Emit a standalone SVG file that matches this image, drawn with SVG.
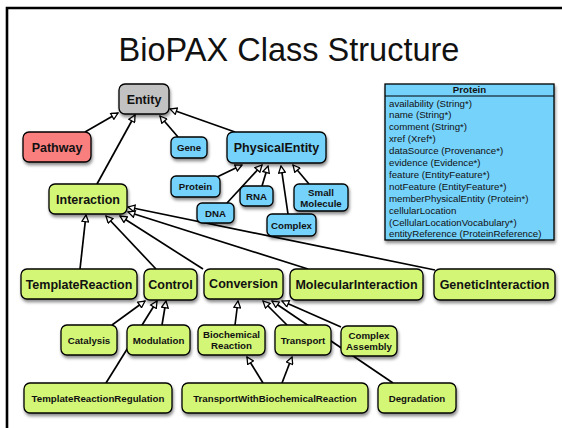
<svg xmlns="http://www.w3.org/2000/svg" width="562" height="428" viewBox="0 0 562 428">
  <defs>
    <filter id="shadow" x="-20%" y="-20%" width="150%" height="160%">
      <feDropShadow dx="1" dy="2.5" stdDeviation="1.4" flood-color="#000" flood-opacity="0.45"/>
    </filter>
    <marker id="tri" viewBox="0 0 10 10" refX="9.2" refY="5" markerWidth="9" markerHeight="8" markerUnits="userSpaceOnUse" orient="auto">
      <path d="M0.8,0.8 L9.2,5 L0.8,9.2 z" fill="#fff" stroke="#000" stroke-width="1.6" stroke-linejoin="miter"/>
    </marker>
    <style>
      .node rect { stroke: #000; stroke-width: 1.3; filter: url(#shadow); }
      .gray rect { fill: #c2c2c2; }
      .red rect { fill: #f97f7f; }
      .green rect { fill: #d3f677; }
      .blue rect { fill: #74d2fb; }
      .node text { font-family: "Liberation Sans", Arial, sans-serif; font-weight: bold; text-anchor: middle; fill: #111; }
      .big text { font-size: 12.5px; }
      .small text { font-size: 9.7px; }
      #connectors line { stroke: #000; stroke-width: 1.7; marker-end: url(#tri); }
      .title { font-family: "Liberation Sans", Arial, sans-serif; font-size: 32.5px; text-anchor: middle; fill: #111; }
      .attr { font-family: "Liberation Sans", Arial, sans-serif; font-size: 9.7px; fill: #111; }
      .attr-head { font-family: "Liberation Sans", Arial, sans-serif; font-size: 9.7px; font-weight: bold; text-anchor: middle; fill: #111; }
    </style>
  </defs>

  <rect width="562" height="428" fill="#fff"/>
  <!-- slide frame -->
  <path d="M7,428 V8 H562" fill="none" stroke="#000" stroke-width="2.6"/>

  <text class="title" x="289" y="61">BioPAX Class Structure</text>

  <!-- inheritance connectors (child to parent) -->
  <g id="connectors">
    <line x1="85" y1="132" x2="118" y2="113"/>
    <line x1="97" y1="184" x2="135" y2="115"/>
    <line x1="178" y1="137" x2="160" y2="116"/>
    <line x1="235" y1="132" x2="170" y2="109"/>
    <line x1="217" y1="177" x2="242" y2="165"/>
    <line x1="227" y1="203" x2="262" y2="165"/>
    <line x1="262" y1="186" x2="268" y2="166"/>
    <line x1="288" y1="214" x2="281" y2="166"/>
    <line x1="309" y1="184" x2="293" y2="165"/>
    <line x1="80" y1="269" x2="86" y2="215"/>
    <line x1="156" y1="269" x2="106" y2="216"/>
    <line x1="203" y1="269" x2="120" y2="216"/>
    <line x1="308" y1="269" x2="128" y2="212"/>
    <line x1="435" y1="270" x2="128" y2="207"/>
    <line x1="112" y1="325" x2="145" y2="301"/>
    <line x1="106" y1="383" x2="157" y2="301"/>
    <line x1="162" y1="325" x2="166" y2="301"/>
    <line x1="235" y1="325" x2="238" y2="301"/>
    <line x1="287" y1="325" x2="263" y2="301"/>
    <line x1="393" y1="383" x2="272" y2="301"/>
    <line x1="341" y1="327" x2="282" y2="301"/>
    <line x1="263" y1="383" x2="247" y2="357"/>
    <line x1="282" y1="383" x2="292" y2="357"/>
  </g>

  <g id="entity" class="node gray big"><rect x="119" y="84" width="50" height="30" rx="6"/><text x="144" y="103.5">Entity</text></g>
  <g id="pathway" class="node red big"><rect x="23" y="132" width="68" height="30" rx="6"/><text x="57" y="151.5">Pathway</text></g>
  <g id="interaction" class="node green big"><rect x="49" y="184" width="78" height="30" rx="6"/><text x="88" y="203.5">Interaction</text></g>
  <g id="gene" class="node blue small"><rect x="171" y="137" width="36" height="21" rx="5"/><text x="189" y="151">Gene</text></g>
  <g id="physical-entity" class="node blue big"><rect x="227" y="132" width="99" height="31" rx="6"/><text x="276.5" y="152">PhysicalEntity</text></g>
  <g id="protein" class="node blue small"><rect x="171" y="176" width="49" height="21" rx="5"/><text x="195.5" y="190">Protein</text></g>
  <g id="rna" class="node blue small"><rect x="240" y="186" width="33" height="20" rx="5"/><text x="256.5" y="199.5">RNA</text></g>
  <g id="dna" class="node blue small"><rect x="197" y="203" width="37" height="20" rx="5"/><text x="215.5" y="216.5">DNA</text></g>
  <g id="small-molecule" class="node blue small"><rect x="294" y="184" width="54" height="27" rx="5"/><text x="321" y="195.5">Small</text><text x="321" y="206.5">Molecule</text></g>
  <g id="complex" class="node blue small"><rect x="267" y="214" width="49" height="22" rx="5"/><text x="291.5" y="228.5">Complex</text></g>

  <g id="template-reaction" class="node green big"><rect x="21" y="269" width="116" height="30" rx="6"/><text x="79" y="288.5">TemplateReaction</text></g>
  <g id="control" class="node green big"><rect x="144" y="269" width="53" height="31" rx="6"/><text x="170.5" y="289">Control</text></g>
  <g id="conversion" class="node green big"><rect x="204" y="269" width="79" height="30" rx="6"/><text x="243.5" y="288">Conversion</text></g>
  <g id="molecular-interaction" class="node green big"><rect x="290" y="269" width="133" height="31" rx="6"/><text x="356.5" y="289">MolecularInteraction</text></g>
  <g id="genetic-interaction" class="node green big"><rect x="434" y="269" width="121" height="31" rx="6"/><text x="494.5" y="289">GeneticInteraction</text></g>

  <g id="catalysis" class="node green small"><rect x="61" y="325" width="56" height="30" rx="6"/><text x="89" y="343.5">Catalysis</text></g>
  <g id="modulation" class="node green small"><rect x="127" y="325" width="63" height="30" rx="6"/><text x="158.5" y="343.5">Modulation</text></g>
  <g id="biochemical-reaction" class="node green small"><rect x="198" y="325" width="67" height="30" rx="6"/><text x="231.5" y="337.5">Biochemical</text><text x="231.5" y="349">Reaction</text></g>
  <g id="transport" class="node green small"><rect x="275" y="325" width="56" height="30" rx="6"/><text x="303" y="343.5">Transport</text></g>
  <g id="complex-assembly" class="node green small"><rect x="341" y="326" width="56" height="30" rx="6"/><text x="369" y="338.5">Complex</text><text x="369" y="350">Assembly</text></g>

  <g id="template-reaction-regulation" class="node green small"><rect x="24" y="383" width="148" height="30" rx="6"/><text x="98" y="401.5">TemplateReactionRegulation</text></g>
  <g id="transport-with-biochemical-reaction" class="node green small"><rect x="182" y="383" width="186" height="30" rx="6"/><text x="275" y="401.5">TransportWithBiochemicalReaction</text></g>
  <g id="degradation" class="node green small"><rect x="378" y="383" width="78" height="30" rx="6"/><text x="417" y="401.5">Degradation</text></g>

  <!-- Protein class attribute table -->
  <g id="protein-class">
    <rect x="385" y="84" width="169" height="156" fill="#74d2fb" stroke="#000" stroke-width="1.3" filter="url(#shadow)"/>
    <line x1="385" y1="96" x2="554" y2="96" stroke="#000" stroke-width="1"/>
    <text class="attr-head" x="469.5" y="93.3">Protein</text>
    <text class="attr" x="389" y="106.5">availability (String*)</text>
    <text class="attr" x="389" y="118.4">name (String*)</text>
    <text class="attr" x="389" y="130.3">comment (String*)</text>
    <text class="attr" x="389" y="142.2">xref (Xref*)</text>
    <text class="attr" x="389" y="154.1">dataSource (Provenance*)</text>
    <text class="attr" x="389" y="166">evidence (Evidence*)</text>
    <text class="attr" x="389" y="177.9">feature (EntityFeature*)</text>
    <text class="attr" x="389" y="189.8">notFeature (EntityFeature*)</text>
    <text class="attr" x="389" y="201.7">memberPhysicalEntity (Protein*)</text>
    <text class="attr" x="389" y="213.6">cellularLocation</text>
    <text class="attr" x="389" y="225.5">(CellularLocationVocabulary*)</text>
    <text class="attr" x="389" y="237.4">entityReference (ProteinReference)</text>
  </g>
</svg>
